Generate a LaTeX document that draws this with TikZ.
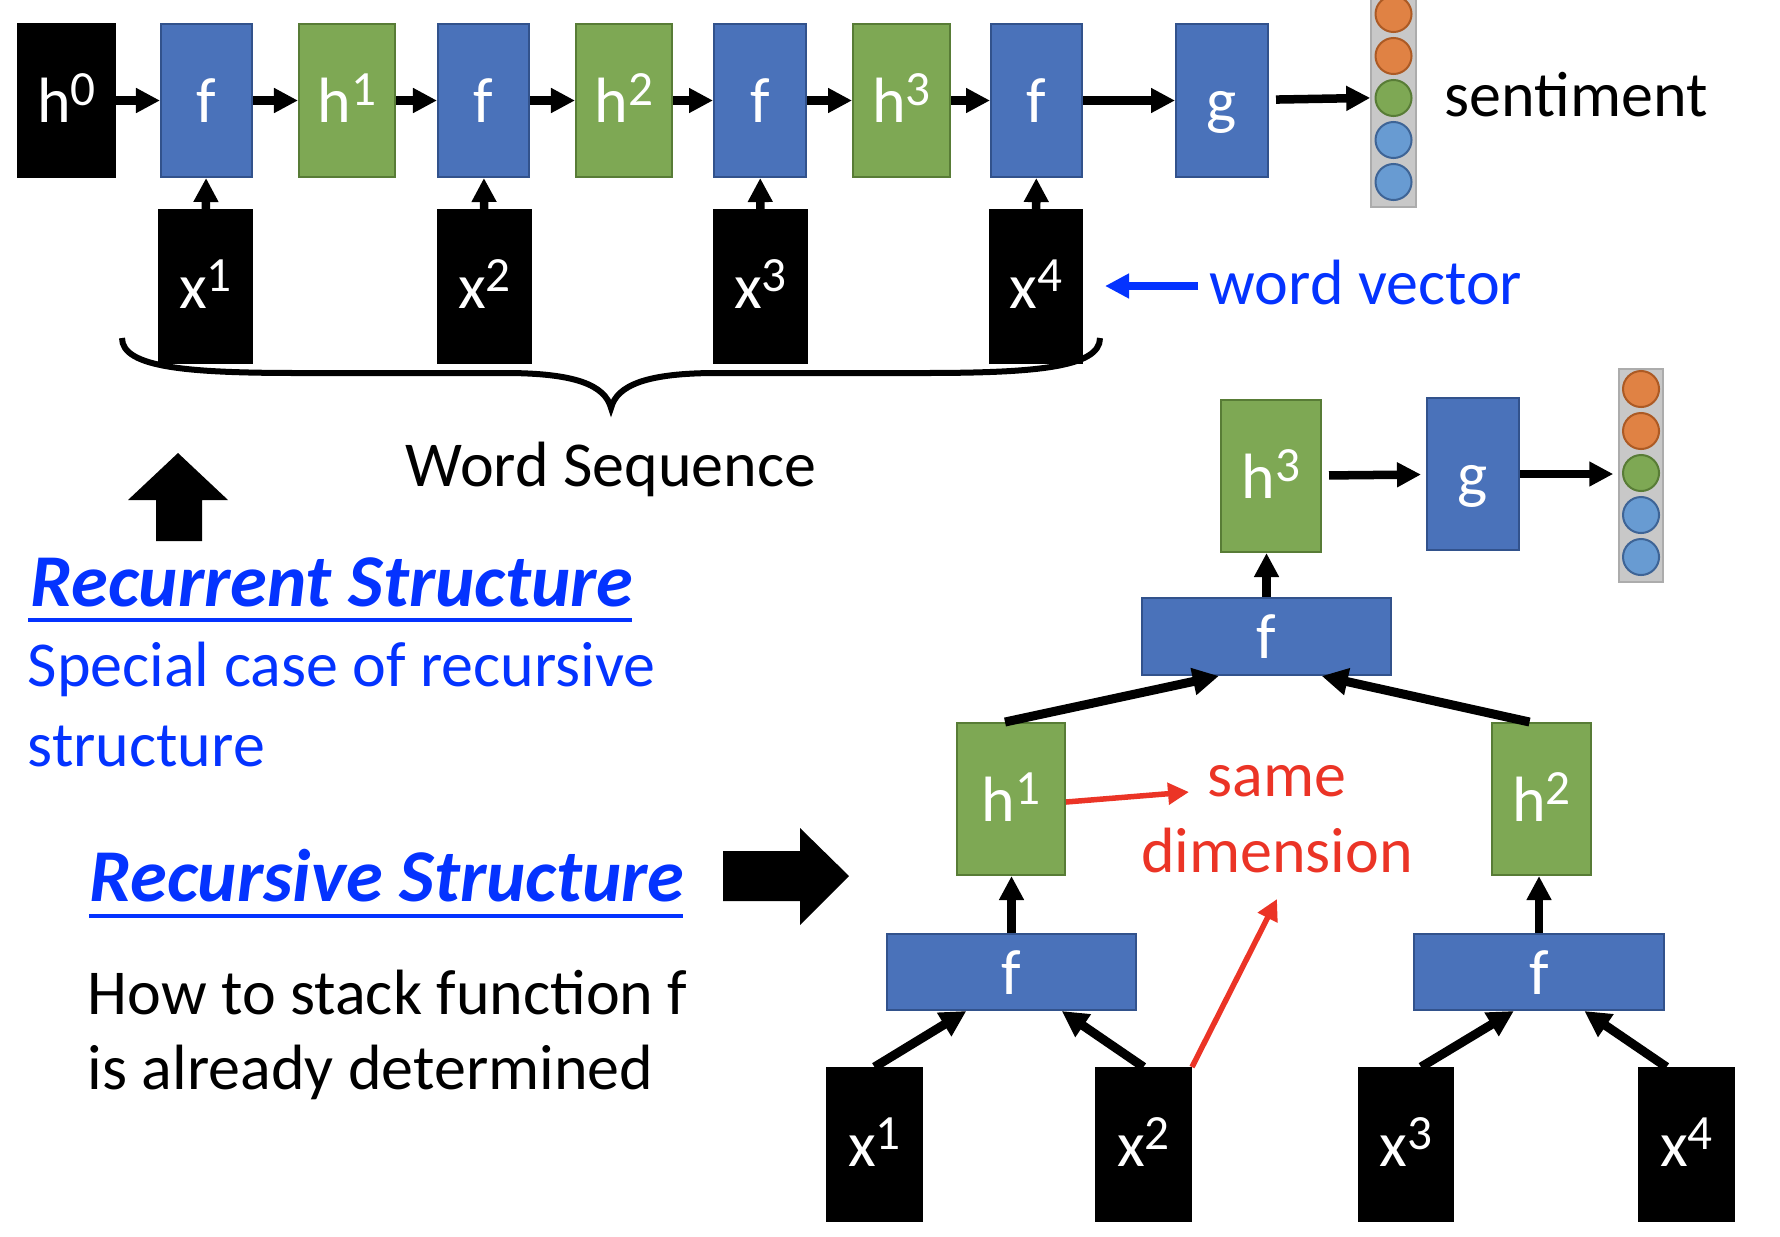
\documentclass[tikz,border=0pt]{standalone}
\usepackage{fontspec}
\setmainfont{Carlito}
\usetikzlibrary{arrows.meta,fit,calc}
\definecolor{boxBlue}{RGB}{74,114,186}
\definecolor{boxBlueD}{RGB}{50,82,140}
\definecolor{boxGreen}{RGB}{126,168,84}
\definecolor{boxGreenD}{RGB}{88,124,54}
\definecolor{orangeF}{RGB}{224,130,68}
\definecolor{orangeD}{RGB}{172,90,36}
\definecolor{lblueF}{RGB}{104,155,210}
\definecolor{lblueD}{RGB}{62,100,150}
\definecolor{grayF}{RGB}{200,200,200}
\definecolor{grayD}{RGB}{172,172,172}
\definecolor{txtBlue}{RGB}{4,51,255}
\definecolor{arrRed}{RGB}{235,52,38}
\newcommand\sups[1]{\raisebox{4.8pt}{\fontsize{14pt}{14pt}\selectfont #1}}
\newcommand\bl[1]{\raisebox{-6.35pt}[0pt][0pt]{#1}}
\newcommand\labfont{\fontsize{18.2pt}{21.5pt}\selectfont}
\newcommand\headfont{\fontsize{21.2pt}{24pt}\selectfont\bfseries\itshape}
\begin{document}
\begin{tikzpicture}[x=0.01cm,y=-0.01cm,
  box/.style={draw, line width=0.02cm, inner sep=0pt, text=white, font=\labfont},
  fbox/.style={box, fill=boxBlue, draw=boxBlueD},
  hbox/.style={box, fill=boxGreen, draw=boxGreenD},
  kbox/.style={box, fill=black, draw=black},
  arr/.style={line width=0.085cm, -{Triangle[length=0.24cm,width=0.235cm]}},
  darr/.style={line width=0.09cm, -{Triangle[length=0.26cm,width=0.26cm]}},
  rarr/.style={draw=arrRed, line width=0.055cm, -{Triangle[length=0.21cm,width=0.21cm]}},
  barr/.style={draw=txtBlue, line width=0.08cm, -{Triangle[length=0.24cm,width=0.235cm]}},
  vec/.style={inner sep=0pt, fill=grayF, draw=grayD, line width=0.015cm},
  dot/.style={circle, minimum size=0.36cm, inner sep=0pt, line width=0.02cm},
  odot/.style={dot, fill=orangeF, draw=orangeD},
  gdot/.style={dot, fill=boxGreen, draw=boxGreenD},
  bdot/.style={dot, fill=lblueF, draw=lblueD},
  txt/.style={inner sep=0pt, font=\labfont},
  head/.style={inner sep=0pt, font=\headfont, text=txtBlue},
  bigarr/.style={fill=black}
]
\useasboundingbox (0,0) rectangle (1780,1236);
\clip (0,0) rectangle (1780,1236);

% ---------- top: recurrent chain ----------
\node[kbox, fit={(18,24)(115,177)}] (h0) {\bl{h\sups{0}}};
\node[fbox, fit={(161,24)(252,177)}] (f1) {\bl{f}};
\node[hbox, fit={(299,24)(395,177)}] (h1) {\bl{h\sups{1}}};
\node[fbox, fit={(438,24)(529,177)}] (f2) {\bl{f}};
\node[hbox, fit={(576,24)(672,177)}] (h2) {\bl{h\sups{2}}};
\node[fbox, fit={(714,24)(806,177)}] (f3) {\bl{f}};
\node[hbox, fit={(853,24)(950,177)}] (h3) {\bl{h\sups{3}}};
\node[fbox, fit={(991,24)(1082,177)}] (f4) {\bl{f}};
\node[fbox, fit={(1176,24)(1268,177)}] (g) {\bl{g}};

\node[kbox, fit={(159,210)(252,363)}] (x1) {\bl{x\sups{1}}};
\node[kbox, fit={(438,210)(531,363)}] (x2) {\bl{x\sups{2}}};
\node[kbox, fit={(714,210)(807,363)}] (x3) {\bl{x\sups{3}}};
\node[kbox, fit={(990,210)(1082,363)}] (x4) {\bl{x\sups{4}}};

\node[vec, fit={(1371,-12)(1416,207)}] (outA) {};
\node[odot] (a1) at (1393.5,14) {};
\node[odot] (a2) at (1393.5,56) {};
\node[gdot] (a3) at (1393.5,98) {};
\node[bdot] (a4) at (1393.5,140) {};
\node[bdot] (a5) at (1393.5,182) {};

\draw[arr] (h0) -- (f1);
\draw[arr] (f1) -- (h1);
\draw[arr] (h1) -- (f2);
\draw[arr] (f2) -- (h2);
\draw[arr] (h2) -- (f3);
\draw[arr] (f3) -- (h3);
\draw[arr] (h3) -- (f4);
\draw[arr] (f4) -- (g);
\draw[arr, shorten <=0.07cm] (g) -- (outA);
\draw[arr] (x1) -- (f1);
\draw[arr] (x2) -- (f2);
\draw[arr] (x3) -- (f3);
\draw[arr] (x4) -- (f4);

\node[txt, anchor=base west] (sent) at (1444,116) {sentiment};
\node[txt, anchor=base west, text=txtBlue] (wv) at (1209,304) {word vector};
\coordinate (wvA) at (1198,286);
\draw[barr, shorten >=0.22cm] (wvA) -- (x4.east |- wvA);

% brace
\draw[line width=0.06cm] (122,338) .. controls (122,368) and (190,373) .. (300,373)
  -- (505,373) .. controls (575,373) and (605,385) .. (611,408)
  .. controls (617,385) and (647,373) .. (717,373) -- (922,373)
  .. controls (1032,373) and (1100,368) .. (1100,338);
\node[txt, anchor=base] (ws) at (611,486) {Word Sequence};

% ---------- left texts ----------
\fill[bigarr] (178,453) -- (228,500) -- (202,500) -- (202,541) -- (156,541) -- (156,500) -- (128,500) -- cycle;
\node[head, anchor=base west] (rec) at (30,606) {Recurrent Structure};
\draw[txtBlue, line width=0.035cm] (28,620) -- (632,620);
\node[txt, anchor=base west, text=txtBlue] (sp1) at (27,686) {Special case of recursive};
\node[txt, anchor=base west, text=txtBlue] (sp2) at (27,766) {structure};
\node[head, anchor=base west] (rcs) at (89,901) {Recursive Structure};
\draw[txtBlue, line width=0.035cm] (89,916) -- (683,916);
\node[txt, anchor=base west] (hw1) at (87,1014) {How to stack function f};
\node[txt, anchor=base west] (hw2) at (87,1089) {is already determined};
\fill[bigarr] (723,851) -- (800,851) -- (800,828) -- (849,876) -- (800,925) -- (800,901) -- (723,901) -- cycle;

% ---------- bottom: recursive tree ----------
\node[hbox, fit={(1221,400)(1321,552)}] (H3) {\bl{h\sups{3}}};
\node[fbox, fit={(1427,398)(1519,550)}] (G) {\bl{g}};
\node[vec, fit={(1619,369)(1663,582)}] (outB) {};
\node[odot] (b1) at (1641,389) {};
\node[odot] (b2) at (1641,431) {};
\node[gdot] (b3) at (1641,473) {};
\node[bdot] (b4) at (1641,515) {};
\node[bdot] (b5) at (1641,557) {};
\node[fbox, fit={(1142,598)(1391,675)}] (FT) {\bl{f}};
\node[hbox, fit={(957,723)(1065,875)}] (H1) {\bl{h\sups{1}}};
\node[hbox, fit={(1492,723)(1591,875)}] (H2) {\bl{h\sups{2}}};
\node[fbox, fit={(887,934)(1136,1010)}] (FL) {\bl{f}};
\node[fbox, fit={(1414,934)(1664,1010)}] (FR) {\bl{f}};
\node[kbox, fit={(827,1068)(922,1221)}] (X1) {\bl{x\sups{1}}};
\node[kbox, fit={(1096,1068)(1191,1221)}] (X2) {\bl{x\sups{2}}};
\node[kbox, fit={(1359,1068)(1453,1221)}] (X3) {\bl{x\sups{3}}};
\node[kbox, fit={(1639,1068)(1734,1221)}] (X4) {\bl{x\sups{4}}};

\draw[arr, shorten <=0.07cm, shorten >=0.05cm] (H3) -- (G);
\draw[arr, shorten >=0.05cm] (G.east) -- (G.east -| outB.west);
\draw[arr] (FT.north) -- (FT.north |- H3.south);
\draw[darr] ($(H1.north)+(-6,0)$) -- ($(FT.south west)!0.31!(FT.south east)$);
\draw[darr] ($(H2.north)+(-12,0)$) -- ($(FT.south west)!0.72!(FT.south east)$);
\draw[arr] (FL.north) -- (FL.north |- H1.south);
\draw[arr] (FR.north) -- (FR.north |- H2.south);
\draw[darr] (X1.north) -- ($(FL.south west)!0.32!(FL.south east)$);
\draw[darr] (X2.north) -- ($(FL.south west)!0.70!(FL.south east)$);
\draw[darr] ($(X3.north)+(15,0)$) -- ($(FR.south west)!0.40!(FR.south east)$);
\draw[darr] ($(X4.north)+(-20,0)$) -- ($(FR.south west)!0.68!(FR.south east)$);

\node[txt, anchor=base, text=arrRed] (same) at (1277,796) {same};
\node[txt, anchor=base, text=arrRed] (dim) at (1277,872) {dimension};
\coordinate (redA) at (1189,792);
\coordinate (redB) at (1277,899);
\draw[rarr] ($(H1.east)+(0,3)$) -- (redA);
\draw[rarr] (X2.north east) -- (redB);
\end{tikzpicture}
\end{document}
